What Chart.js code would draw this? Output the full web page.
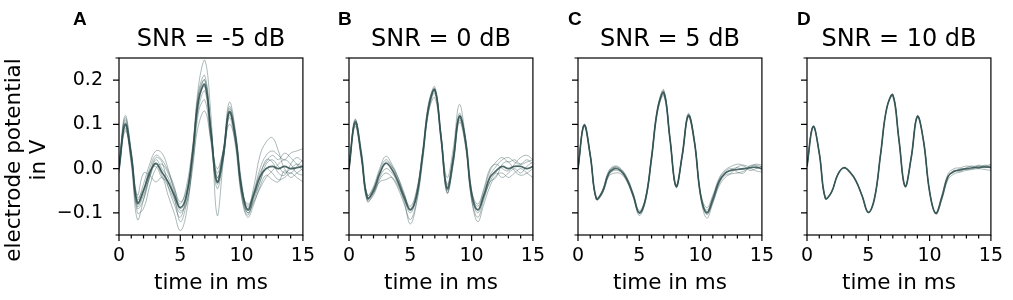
<!DOCTYPE html>
<html>
<head>
<meta charset="utf-8">
<script src="https://cdn.jsdelivr.net/npm/chart.js@4.4.1/dist/chart.umd.min.js"></script>
<style>
  html, body { margin: 0; padding: 0; background: #fff; overflow: hidden; }
  #fig { position: relative; width: 1013px; height: 300px; }
  #fig canvas { position: absolute; top: 0; }
</style>
</head>
<body>
<div id="fig">
  <canvas id="panelA" width="325" height="300" style="left:0px"></canvas>
  <canvas id="panelB" width="225" height="300" style="left:330px"></canvas>
  <canvas id="panelC" width="225" height="300" style="left:559px"></canvas>
  <canvas id="panelD" width="225" height="300" style="left:788px"></canvas>
</div>
<script>
// sample times (ms)
const timeMs = [0, 0.5, 1, 1.5, 2, 2.5, 3, 3.5, 4, 4.5, 5, 5.5, 6, 6.5, 7, 7.5,
  8, 8.5, 9, 9.5, 10, 10.5, 11, 11.5, 12, 12.5, 13, 13.5, 14, 14.5, 15];

const panelLetters = ["A", "B", "C", "D"];
const snrTitles = ["SNR = -5 dB", "SNR = 0 dB", "SNR = 5 dB", "SNR = 10 dB"];
const yAxisLabel = ["electrode potential", "in V"];

const xMajorTicks = [0, 5, 10, 15];
const xMinorTicks = [1, 2, 3, 4, 6, 7, 8, 9, 11, 12, 13, 14];
const yMajorTicks = [-0.1, 0, 0.1, 0.2];
const yMinorTicks = [-0.15, -0.05, 0.05, 0.15, 0.25];

// SNR = -5 dB
const meanSnrM5 = [0.0, 0.1, 0.03, -0.078, -0.05, -0.01, 0.012, -0.008, -0.03, -0.06, -0.088, -0.06, 0.035, 0.155, 0.19, 0.08,
  -0.03, 0.03, 0.128, 0.07, -0.045, -0.093, -0.058, -0.018, 0.0, 0.005, 0.0, 0.005, 0.0, 0.002, 0.005];
const trialsSnrM5 = [
  [0.0, 0.11, 0.03, -0.085, -0.06, -0.02, 0.01, -0.015, -0.04, -0.07, -0.1, -0.07, 0.04, 0.19, 0.245, 0.12, -0.105, 0.015, 0.135, 0.075, -0.045, -0.1, -0.07, -0.03, 0.01, 0.02, 0.005, -0.01, 0.0, 0.01, 0.005],
  [-0.005, 0.09, 0.02, -0.07, -0.035, 0.01, 0.04, 0.035, 0.0, -0.05, -0.095, -0.08, 0.01, 0.1, 0.13, 0.065, 0.0, 0.04, 0.1, 0.06, -0.04, -0.085, -0.05, 0.0, 0.03, 0.04, 0.03, 0.02, 0.035, 0.04, 0.045],
  [0.01, 0.12, 0.04, -0.06, -0.01, -0.015, -0.03, -0.02, -0.06, -0.1, -0.14, -0.1, 0.02, 0.16, 0.2, 0.09, -0.02, 0.03, 0.13, 0.06, -0.06, -0.105, -0.065, -0.03, 0.0, -0.01, -0.025, -0.02, -0.01, -0.02, -0.03],
  [0.0, 0.095, 0.01, -0.09, -0.07, -0.02, 0.02, 0.0, -0.02, -0.055, -0.08, -0.04, 0.05, 0.17, 0.2, 0.09, -0.03, 0.04, 0.14, 0.08, -0.04, -0.09, -0.04, 0.03, 0.06, 0.07, 0.04, 0.0, -0.01, 0.005, 0.02],
  [-0.01, 0.085, 0.03, -0.1, -0.09, -0.04, 0.0, 0.01, -0.01, -0.045, -0.075, -0.05, 0.03, 0.14, 0.175, 0.07, -0.045, 0.02, 0.12, 0.07, -0.055, -0.1, -0.075, -0.045, -0.02, -0.005, 0.01, 0.02, 0.01, -0.01, -0.015],
  [0.005, 0.105, 0.015, -0.115, -0.07, -0.015, 0.025, 0.015, -0.04, -0.08, -0.11, -0.06, 0.025, 0.16, 0.185, 0.08, -0.01, 0.04, 0.125, 0.07, -0.05, -0.08, -0.06, -0.02, 0.02, 0.015, -0.01, -0.015, 0.01, 0.025, 0.015],
  [0.0, 0.1, 0.025, -0.075, -0.05, -0.005, 0.005, -0.02, -0.03, -0.065, -0.12, -0.08, 0.0, 0.13, 0.155, 0.06, -0.035, 0.02, 0.115, 0.05, -0.065, -0.11, -0.08, -0.04, -0.015, -0.025, -0.03, -0.005, -0.02, -0.01, 0.0],
  [0.005, 0.115, 0.035, -0.065, -0.045, 0.0, 0.03, 0.02, -0.005, -0.04, -0.09, -0.065, 0.035, 0.175, 0.21, 0.095, -0.02, 0.04, 0.15, 0.085, -0.03, -0.095, -0.055, -0.01, 0.015, 0.03, 0.02, 0.035, 0.025, 0.01, -0.005]
];

// SNR = 0 dB
const meanSnr0 = [0.0, 0.105, 0.035, -0.066, -0.05, -0.012, 0.012, -0.002, -0.03, -0.065, -0.093, -0.062, 0.032, 0.14, 0.178, 0.072,
  -0.045, 0.022, 0.118, 0.065, -0.055, -0.093, -0.06, -0.02, -0.005, 0.005, 0.0, 0.005, 0.005, 0.0, 0.005];
const trialsSnr0 = [
  [0.0, 0.11, 0.035, -0.06, -0.04, 0.0, 0.028, 0.01, -0.02, -0.06, -0.09, -0.055, 0.035, 0.145, 0.185, 0.08, -0.035, 0.03, 0.125, 0.065, -0.055, -0.085, -0.05, -0.005, 0.015, 0.025, 0.015, 0.02, 0.01, 0.015, 0.02],
  [0.005, 0.1, 0.025, -0.072, -0.06, -0.025, -0.01, -0.02, -0.045, -0.08, -0.115, -0.075, 0.02, 0.13, 0.17, 0.068, -0.055, 0.01, 0.11, 0.055, -0.07, -0.12, -0.08, -0.04, -0.015, -0.01, -0.02, -0.01, 0.0, -0.01, -0.02],
  [0.0, 0.112, 0.032, -0.07, -0.045, -0.005, 0.02, 0.005, -0.025, -0.06, -0.085, -0.05, 0.035, 0.15, 0.18, 0.075, -0.02, 0.045, 0.145, 0.07, -0.05, -0.08, -0.045, 0.0, 0.01, 0.0, -0.005, 0.01, 0.025, 0.03, 0.02],
  [-0.005, 0.095, 0.02, -0.075, -0.055, -0.02, 0.0, -0.01, -0.035, -0.075, -0.125, -0.08, 0.015, 0.13, 0.16, 0.065, -0.055, 0.01, 0.105, 0.05, -0.07, -0.11, -0.07, -0.03, -0.02, 0.01, 0.015, -0.005, -0.015, -0.01, 0.0],
  [0.0, 0.108, 0.03, -0.06, -0.045, -0.01, 0.015, 0.005, -0.02, -0.055, -0.095, -0.065, 0.025, 0.14, 0.175, 0.078, -0.04, 0.025, 0.12, 0.065, -0.06, -0.1, -0.06, -0.015, 0.005, 0.02, 0.025, 0.015, 0.01, 0.02, 0.01],
  [0.005, 0.1, 0.028, -0.068, -0.055, -0.03, -0.025, -0.02, -0.04, -0.07, -0.1, -0.065, 0.03, 0.135, 0.178, 0.072, -0.05, 0.015, 0.115, 0.055, -0.065, -0.095, -0.065, -0.03, -0.01, -0.02, -0.01, 0.0, -0.01, 0.005, 0.015]
];

// SNR = 5 dB
const meanSnr5 = [0.0, 0.098, 0.03, -0.068, -0.052, -0.012, 0.0, -0.005, -0.025, -0.06, -0.1, -0.07, 0.025, 0.135, 0.171, 0.068,
  -0.04, 0.03, 0.12, 0.06, -0.06, -0.1, -0.07, -0.03, -0.01, -0.004, -0.002, 0.0, 0.002, 0.003, 0.0];
const trialsSnr5 = [
  [0.0, 0.1, 0.032, -0.066, -0.048, -0.005, 0.006, 0.0, -0.02, -0.055, -0.095, -0.066, 0.03, 0.14, 0.178, 0.07, -0.037, 0.033, 0.125, 0.063, -0.055, -0.088, -0.06, -0.022, -0.003, 0.005, 0.01, 0.008, 0.005, 0.01, 0.008],
  [0.0, 0.095, 0.028, -0.07, -0.056, -0.018, -0.01, -0.012, -0.03, -0.065, -0.106, -0.074, 0.02, 0.13, 0.164, 0.066, -0.043, 0.027, 0.116, 0.057, -0.065, -0.112, -0.078, -0.04, -0.02, -0.012, -0.01, -0.006, 0.0, -0.005, -0.008],
  [0.002, 0.1, 0.03, -0.068, -0.05, -0.01, 0.004, -0.002, -0.022, -0.058, -0.1, -0.07, 0.025, 0.136, 0.173, 0.068, -0.04, 0.03, 0.122, 0.06, -0.06, -0.098, -0.066, -0.025, -0.006, 0.0, -0.008, -0.01, 0.006, 0.008, 0.004],
  [-0.002, 0.097, 0.029, -0.069, -0.054, -0.015, -0.004, -0.008, -0.028, -0.062, -0.098, -0.068, 0.027, 0.133, 0.168, 0.067, -0.039, 0.03, 0.118, 0.06, -0.06, -0.104, -0.075, -0.035, -0.015, -0.01, 0.004, 0.006, -0.004, 0.0, 0.006],
  [0.0, 0.099, 0.031, -0.067, -0.05, -0.008, 0.003, -0.004, -0.025, -0.06, -0.102, -0.071, 0.024, 0.137, 0.175, 0.069, -0.041, 0.029, 0.121, 0.061, -0.058, -0.094, -0.064, -0.028, -0.012, -0.002, 0.002, -0.002, 0.002, 0.006, -0.004]
];

// SNR = 10 dB
const meanSnr10 = [0.005, 0.095, 0.035, -0.067, -0.053, -0.014, 0.002, -0.008, -0.028, -0.062, -0.099, -0.068, 0.032, 0.136, 0.166, 0.065,
  -0.04, 0.025, 0.118, 0.063, -0.052, -0.101, -0.065, -0.018, -0.006, -0.003, 0.0, 0.002, 0.003, 0.004, 0.003];
const trialsSnr10 = [
  [0.005, 0.096, 0.036, -0.066, -0.052, -0.013, 0.003, -0.007, -0.027, -0.061, -0.098, -0.067, 0.033, 0.137, 0.168, 0.066, -0.039, 0.026, 0.12, 0.064, -0.051, -0.099, -0.06, -0.012, 0.0, 0.002, 0.006, 0.004, 0.008, 0.006, 0.01],
  [0.004, 0.094, 0.034, -0.068, -0.054, -0.015, 0.001, -0.009, -0.029, -0.063, -0.1, -0.069, 0.031, 0.135, 0.164, 0.064, -0.041, 0.024, 0.116, 0.062, -0.053, -0.103, -0.07, -0.025, -0.012, -0.008, -0.004, -0.002, 0.0, -0.002, -0.004],
  [0.005, 0.095, 0.035, -0.067, -0.053, -0.014, 0.002, -0.008, -0.028, -0.062, -0.099, -0.068, 0.032, 0.136, 0.166, 0.065, -0.04, 0.025, 0.118, 0.063, -0.052, -0.101, -0.066, -0.02, -0.004, -0.006, 0.002, 0.006, 0.0, 0.008, 0.002],
  [0.006, 0.095, 0.035, -0.067, -0.053, -0.014, 0.002, -0.008, -0.028, -0.062, -0.099, -0.068, 0.032, 0.136, 0.167, 0.065, -0.04, 0.025, 0.118, 0.063, -0.052, -0.1, -0.064, -0.016, -0.008, 0.0, -0.002, 0.0, 0.006, 0.002, 0.008]
];

const TRACE_RGB = "47, 79, 79";
const FONT = '"DejaVu Sans", sans-serif';

// box, outward tick marks, y labels, title and panel letter
const panelDecor = {
  id: "panelDecor",
  afterDatasetsDraw(chart, args, opts) {
    const { ctx, chartArea: a, scales: { x, y } } = chart;
    ctx.save();
    ctx.strokeStyle = "#000";
    ctx.lineWidth = 1.2;
    ctx.strokeRect(a.left, a.top, a.right - a.left, a.bottom - a.top);

    ctx.beginPath();
    const tickX = (vals, len) => vals.forEach(v => {
      const px = x.getPixelForValue(v);
      ctx.moveTo(px, a.bottom);
      ctx.lineTo(px, a.bottom + len);
    });
    const tickY = (vals, len) => vals.forEach(v => {
      const py = y.getPixelForValue(v);
      ctx.moveTo(a.left, py);
      ctx.lineTo(a.left - len, py);
    });
    tickX(xMajorTicks, 6);
    tickX(xMinorTicks, 3.5);
    tickY(yMajorTicks, 6);
    tickY(yMinorTicks, 3.5);
    ctx.stroke();

    ctx.fillStyle = "#000";
    if (opts.yLabels) {
      ctx.font = "19px " + FONT;
      ctx.textAlign = "right";
      ctx.textBaseline = "middle";
      yMajorTicks.forEach(v => {
        ctx.fillText(v.toFixed(1).replace("-", "\u2212"), a.left - 16, y.getPixelForValue(v));
      });
      ctx.save();
      ctx.translate(0, 160);
      ctx.rotate(-Math.PI / 2);
      ctx.font = "21.5px " + FONT;
      ctx.textAlign = "center";
      ctx.textBaseline = "alphabetic";
      ctx.fillText(yAxisLabel[0], 0, 20);
      ctx.fillText(yAxisLabel[1], 0, 45);
      ctx.restore();
    }

    ctx.textAlign = "center";
    ctx.textBaseline = "alphabetic";
    ctx.font = "24px " + FONT;
    ctx.fillText(opts.title, (a.left + a.right) / 2, 46);

    ctx.textAlign = "left";
    ctx.font = 'bold 19px "Liberation Sans", Arial, sans-serif';
    ctx.fillText(opts.letter, opts.letterX, 25);
    ctx.restore();
  }
};

function makePanel(canvasId, idx, mean, trials, yAxisWidth, letterX) {
  const datasets = trials.map(tr => ({
    data: timeMs.map((t, i) => ({ x: t, y: tr[i] })),
    borderColor: `rgba(${TRACE_RGB}, 0.4)`,
    borderWidth: 1,
    pointRadius: 0,
    tension: 0.4
  }));
  datasets.push({
    data: timeMs.map((t, i) => ({ x: t, y: mean[i] })),
    borderColor: `rgba(${TRACE_RGB}, 0.85)`,
    borderWidth: 1.7,
    pointRadius: 0,
    tension: 0.4
  });

  return new Chart(document.getElementById(canvasId), {
    type: "line",
    data: { datasets },
    plugins: [panelDecor],
    options: {
      responsive: false,
      animation: false,
      events: [],
      layout: { padding: { top: 58, right: 15, bottom: 0, left: 0 } },
      plugins: {
        legend: { display: false },
        tooltip: { enabled: false },
        panelDecor: { title: snrTitles[idx], letter: panelLetters[idx], letterX, yLabels: idx === 0 }
      },
      scales: {
        x: {
          type: "linear",
          min: 0,
          max: 15,
          afterBuildTicks: s => { s.ticks = xMajorTicks.map(v => ({ value: v })); },
          afterFit: s => { s.height = 65; },
          grid: { display: false, drawTicks: false },
          border: { display: false },
          ticks: {
            color: "#000",
            font: { family: FONT, size: 19 },
            padding: 10,
            maxRotation: 0,
            callback: v => String(v)
          },
          title: {
            display: true,
            text: "time in ms",
            color: "#000",
            font: { family: FONT, size: 21.5 },
            padding: { top: 0, bottom: 4 }
          }
        },
        y: {
          min: -0.15,
          max: 0.25,
          afterBuildTicks: s => { s.ticks = yMajorTicks.map(v => ({ value: v })); },
          afterFit: s => { s.width = yAxisWidth; },
          grid: { display: false, drawTicks: false },
          border: { display: false },
          ticks: { display: false }
        }
      }
    }
  });
}

makePanel("panelA", 0, meanSnrM5, trialsSnrM5, 119, 73);
makePanel("panelB", 1, meanSnr0, trialsSnr0, 19, 8);
makePanel("panelC", 2, meanSnr5, trialsSnr5, 19, 9);
makePanel("panelD", 3, meanSnr10, trialsSnr10, 19, 9);
</script>
</body>
</html>
